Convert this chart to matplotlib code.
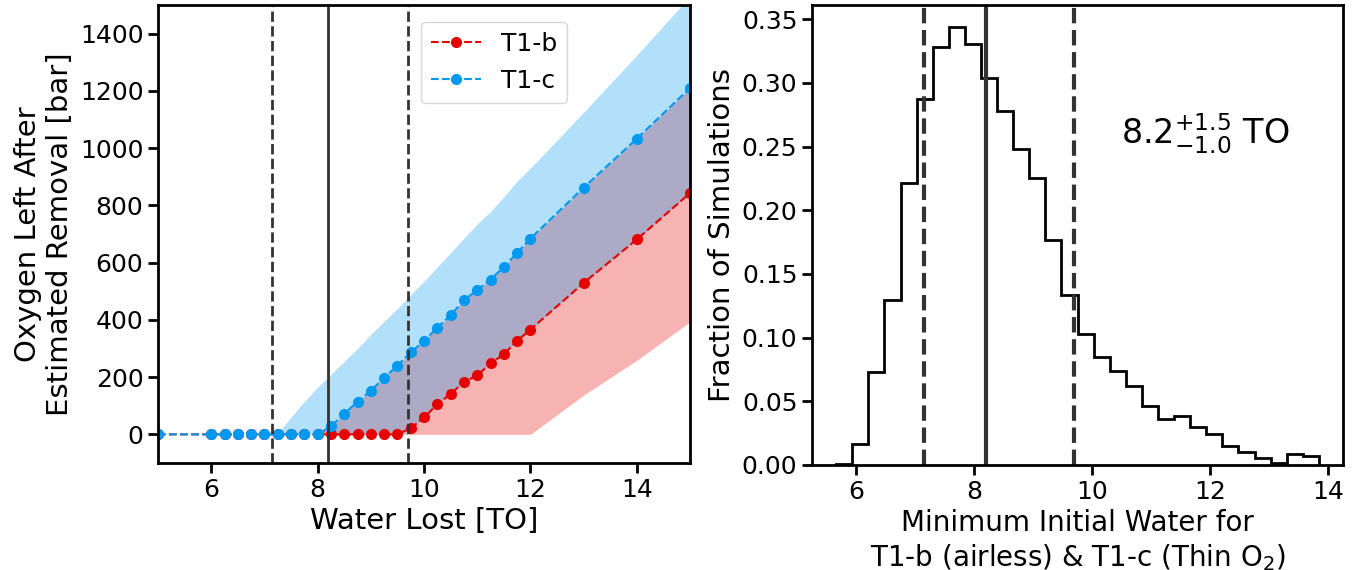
import numpy as np
import matplotlib
matplotlib.use("Agg")
import matplotlib.pyplot as plt

# left panel: oxygen left vs water lost
water_b = [5, 6, 6.25, 6.5, 6.75, 7, 7.25, 7.5, 7.75, 8, 8.25, 8.5, 8.75, 9, 9.25, 9.5,
           9.75, 10, 10.25, 10.5, 10.75, 11, 11.25, 11.5, 11.75, 12, 13, 14, 15]
oxy_b = [0, 0, 0, 0, 0, 0, 0, 0, 0, 0, 0, 0, 0, 0, 0, 0,
         21, 59, 105, 141, 183, 206, 248, 280, 327, 366, 529, 681, 843]
oxy_b_lo = [0, 0, 0, 0, 0, 0, 0, 0, 0, 0, 0, 0, 0, 0, 0, 0,
            0, 0, 0, 0, 0, 0, 0, 0, 0, 0, 137, 259, 393]

water_c = water_b
oxy_c = [0, 0, 0, 0, 0, 0, 0, 0, 0, 0, 28, 72, 114, 152, 198, 240,
         287, 326, 373, 416, 469, 504, 541, 585, 634, 684, 862, 1033, 1210]
oxy_c_hi = [0, 0, 0, 0, 0, 0, 5, 60, 115, 165, 210, 255, 300, 350, 395, 440,
            488, 535, 585, 635, 685, 735, 778, 830, 885, 930, 1125, 1325, 1530]

# right panel: histogram
edges = np.linspace(5.66, 13.85, 31)
frac = [0.0005, 0.0168, 0.0732, 0.1295, 0.2213, 0.2876, 0.3283, 0.344, 0.3309, 0.3041,
        0.2779, 0.2480, 0.2252, 0.1770, 0.1335, 0.1028, 0.0849, 0.0739, 0.0621, 0.0464,
        0.0359, 0.0385, 0.0299, 0.0246, 0.0149, 0.0105, 0.0058, 0.0018, 0.0089, 0.0071]

med, lo, hi = 8.2, 7.15, 9.7

red = '#e60000'
blue = '#0099f0'
grey = '#333333'

plt.rcParams['font.size'] = 18
plt.rcParams['axes.linewidth'] = 2
for a in ['xtick', 'ytick']:
    plt.rcParams[a + '.major.width'] = 2
    plt.rcParams[a + '.major.size'] = 7
    plt.rcParams[a + '.labelsize'] = 18

fig = plt.figure(figsize=(13.56, 5.7), dpi=100)
ax1 = fig.add_axes([158/1356, 1 - 463/570, 532/1356, 458/570])
ax2 = fig.add_axes([812/1356, 1 - 465/570, 531/1356, 460/570])

ax1.fill_between(water_b, oxy_b_lo, oxy_c, color=red, alpha=0.3, lw=0)
ax1.fill_between(water_c, oxy_b, oxy_c_hi, color=blue, alpha=0.3, lw=0)
ax1.plot(water_b, oxy_b, '--o', color=red, ms=7, lw=1.5, label='T1-b')
ax1.plot(water_c, oxy_c, '--o', color=blue, ms=7, lw=1.5, label='T1-c')
ax1.axvline(lo, color=grey, ls='--', lw=2)
ax1.axvline(med, color=grey, ls='-', lw=2)
ax1.axvline(hi, color=grey, ls='--', lw=2)
ax1.set_xlim(5, 15)
ax1.set_ylim(-100, 1500)
ax1.set_xlabel('Water Lost [TO]', fontsize=21)
ax1.set_ylabel('Oxygen Left After\nEstimated Removal [bar]', fontsize=21)
ax1.legend(loc='upper left', bbox_to_anchor=(0.47, 0.99), fontsize=18)

centers = (edges[:-1] + edges[1:]) / 2
ax2.hist(centers, bins=edges, weights=frac, histtype='step', color='k', lw=2)
ax2.axvline(lo, color=grey, ls='--', lw=3)
ax2.axvline(med, color=grey, ls='-', lw=3)
ax2.axvline(hi, color=grey, ls='--', lw=3)
ax2.set_xlabel('Minimum Initial Water for\nT1-b (airless) & T1-c (Thin O$_2$)', fontsize=20)
ax2.set_ylabel('Fraction of Simulations', fontsize=21)
ax2.text(0.74, 0.72, r'$8.2^{+1.5}_{-1.0}$ TO', transform=ax2.transAxes,
         fontsize=24, ha='center', va='center', math_fontfamily='dejavusans')

fig.savefig('out.png', dpi=100)
